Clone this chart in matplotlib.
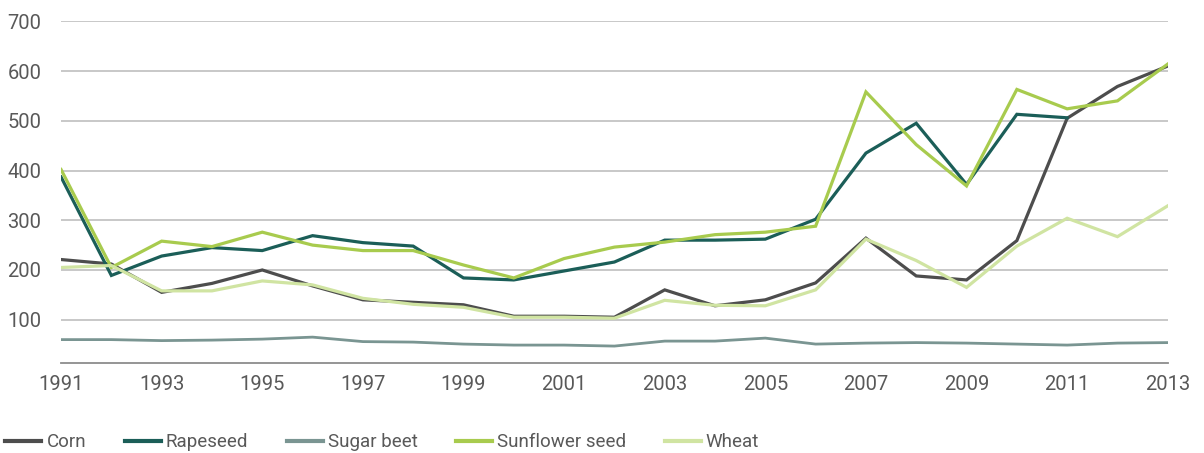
import numpy as np
import matplotlib.pyplot as plt

plt.rcParams['font.family'] = ['Roboto', 'DejaVu Sans']

years = list(range(1991, 2014))

corn = [221, 212, 155, 173, 200, 168, 140, 135, 130, 107, 107, 105,
        160, 128, 140, 174, 264, 188, 180, 259, 505, 569, 610]
rapeseed = [387, 189, 228, 245, 239, 269, 255, 248, 184, 180, 198, 216,
            260, 260, 262, 302, 435, 495, 372, 513, 506, np.nan, np.nan]
sugar_beet = [60, 60, 58, 59, 61, 65, 56, 55, 51, 49, 49, 47,
              57, 57, 63, 51, 53, 54, 53, 51, 49, 53, 54]
sunflower = [402, 205, 258, 247, 276, 250, 239, 239, 210, 184, 223, 246,
             256, 271, 276, 288, 558, 452, 369, 563, 524, 540, 614]
wheat = [205, 209, 158, 158, 178, 170, 143, 131, 125, 105, 105, 103,
         139, 129, 128, 160, 262, 219, 165, 248, 304, 267, 329]

series = [
    ("Corn", corn, "#4d4d4d", 2.3),
    ("Rapeseed", rapeseed, "#1b5e58", 2.3),
    ("Sugar beet", sugar_beet, "#7a9592", 2.0),
    ("Sunflower seed", sunflower, "#a8cb4e", 2.3),
    ("Wheat", wheat, "#d0e4a2", 2.3),
]

fig = plt.figure(figsize=(12.04, 4.53), dpi=100)
ax = fig.add_axes([0.0507, 0.1987, 0.9192, 0.7543])

for name, vals, col, lw in series:
    ax.plot(years, vals, color=col, lw=lw, label=name,
            solid_joinstyle='miter', zorder=3)

ax.set_xlim(1991, 2013)
ax.set_ylim(13, 700)
ax.set_xticks(range(1991, 2014, 2))
ax.set_yticks(range(100, 701, 100))
ax.yaxis.grid(True, color="#c4c4c4", lw=1.3)
ax.set_axisbelow(True)

for s in ["top", "right", "left"]:
    ax.spines[s].set_visible(False)
ax.spines["bottom"].set_color("#8c8c8c")
ax.spines["bottom"].set_linewidth(1.3)

ax.tick_params(axis="both", length=0, labelsize=14.5, labelcolor="#595959")
ax.tick_params(axis="y", pad=14)
ax.tick_params(axis="x", pad=9)

handles, labels = ax.get_legend_handles_labels()
leg = fig.legend(handles, labels, loc="center left", bbox_to_anchor=(0.0045, 0.024),
                 ncol=5, frameon=False, fontsize=13.5, handlelength=1.92,
                 handletextpad=0.27, columnspacing=2.05, borderaxespad=0,
                 borderpad=0)
for t in leg.get_texts():
    t.set_color("#595959")
for h in leg.get_lines():
    h.set_linewidth(3)

fig.savefig("out.png", dpi=100)
